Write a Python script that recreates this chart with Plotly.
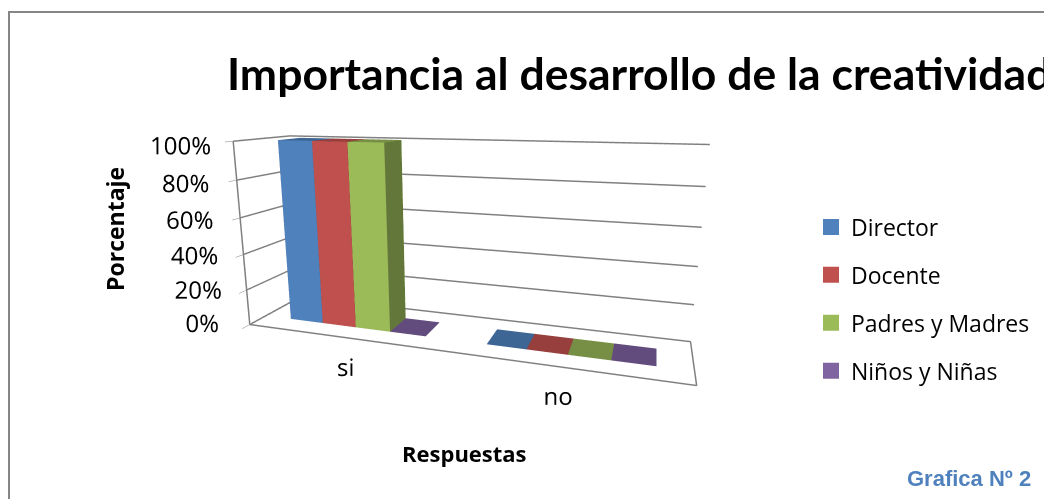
import plotly.graph_objects as go

categories = ["si", "no"]
series_names = ["Director", "Docente", "Padres y Madres", "Niños y Niñas"]
director = [100, 0]
docente = [100, 0]
padres = [100, 0]
ninos = [0, 0]
series_values = [director, docente, padres, ninos]
z_ticks = [0, 20, 40, 60, 80, 100]
z_labels = ["0%", "20%", "40%", "60%", "80%", "100%"]
front_colors = ["#4f81bd", "#c0504d", "#9bbb59", "#8064a2"]
top_colors = ["#3d6695", "#963f3c", "#768f45", "#624c7e"]
side_colors = ["#3a5f8c", "#8c3a38", "#63773a", "#55426e"]

BAR_W = 0.178
MARGIN = 0.144
Y0, Y1 = 0.29, 0.71
GRID = "#808080"

fig = go.Figure()

def bar(cat, ser, v):
    x0 = cat + MARGIN + ser * BAR_W
    x1 = x0 + BAR_W
    xs = [x0, x1, x1, x0, x0, x1, x1, x0]
    ys = [Y0, Y0, Y1, Y1, Y0, Y0, Y1, Y1]
    zs = [0, 0, 0, 0, v, v, v, v]
    i = [0, 0, 1, 1, 4, 4, 0, 0, 3, 3, 2, 2]
    j = [1, 5, 2, 6, 5, 6, 1, 3, 0, 4, 3, 7]
    k = [5, 4, 6, 5, 6, 7, 2, 2, 4, 7, 7, 6]
    f = front_colors[ser]; s = side_colors[ser]; t = top_colors[ser]
    fc = [f, f, s, s, t, t, t, t, s, s, f, f]
    return go.Mesh3d(x=xs, y=ys, z=zs, i=i, j=j, k=k, facecolor=fc, flatshading=True,
                     lighting=dict(ambient=1, diffuse=0, specular=0, fresnel=0, roughness=1),
                     hoverinfo="skip", showlegend=False)

for s, vals in enumerate(series_values):
    for c, v in enumerate(vals):
        fig.add_trace(bar(c, s, v))

n = len(categories)
fig.add_trace(go.Scatter3d(x=[0, n, n, 0, 0], y=[0, 0, 1, 1, 0], z=[0, 0, 0, 0, 0], mode="lines",
                           line=dict(color=GRID, width=3), hoverinfo="skip", showlegend=False))
fig.add_trace(go.Scatter3d(x=[0, 0], y=[0, 0], z=[0, 100], mode="lines",
                           line=dict(color=GRID, width=3), hoverinfo="skip", showlegend=False))
# invisible traces that activate the overlay scenes carrying the axis labels
for scene_name in ["scene2", "scene3"]:
    fig.add_trace(go.Scatter3d(x=[0, n], y=[0, 1], z=[0, 100], mode="lines", scene=scene_name, opacity=0,
                               line=dict(color="rgba(0,0,0,0)", width=1), hoverinfo="skip", showlegend=False))

for name, color in zip(series_names, front_colors):
    fig.add_trace(go.Scatter(x=[None], y=[None], mode="markers", name=name, legendgroup=name,
                             marker=dict(symbol="square", size=16, color=color)))

axis_font = dict(family="Open Sans", size=17, color="#000000")
hidden = dict(showgrid=False, showbackground=False, zeroline=False, showspikes=False, ticks="",
              showticklabels=False, showline=False, title="")
fig.update_layout(
    width=1044, height=499, margin=dict(l=0, r=0, t=0, b=0),
    paper_bgcolor="white", plot_bgcolor="rgba(0,0,0,0)", font=dict(family="Open Sans", size=21, color="#000000"),
    xaxis=dict(visible=False), yaxis=dict(visible=False),
    scene=dict(
        domain=dict(x=[0, 0.885], y=[0.032, 1]),
        aspectmode="manual", aspectratio=dict(x=1.98, y=0.43, z=0.86),
        camera=dict(eye=dict(x=0.772, y=-2.377, z=0.60), center=dict(x=0, y=0, z=0), up=dict(x=0, y=0, z=1)),
        xaxis=dict(range=[0, n], **hidden),
        yaxis=dict(range=[0, 1], **hidden),
        zaxis=dict(range=[0, 100], tickvals=z_ticks, showticklabels=False, title="", showgrid=True,
                   gridcolor=GRID, gridwidth=3, showbackground=False, zeroline=False, showspikes=False,
                   ticks="outside", ticklen=6, tickcolor=GRID),
    ),
    scene2=dict(
        domain=dict(x=[0, 0.885], y=[0.032, 1]),
        aspectmode="manual", aspectratio=dict(x=1.98, y=0.43, z=0.78),
        camera=dict(eye=dict(x=0.772, y=-2.377, z=0.60), center=dict(x=0.105, y=0, z=-0.03), up=dict(x=0, y=0, z=1)),
        xaxis=dict(range=[0, n], **hidden),
        yaxis=dict(range=[0, 1], **hidden),
        zaxis=dict(range=[0, 100], tickvals=z_ticks, ticktext=z_labels, title="", showgrid=False,
                   showbackground=False, zeroline=False, showspikes=False, ticks="outside", ticklen=6,
                   tickcolor="rgba(0,0,0,0)", tickangle=0, tickfont=axis_font),
    ),
    scene3=dict(
        domain=dict(x=[0, 0.885], y=[0.032, 1]),
        aspectmode="manual", aspectratio=dict(x=1.98, y=0.43, z=0.86),
        camera=dict(eye=dict(x=0.772, y=-2.377, z=0.60), center=dict(x=0, y=0, z=0.06), up=dict(x=0, y=0, z=1)),
        xaxis=dict(range=[0, n], tickvals=[0.6, 1.5], ticktext=categories, title="", showgrid=False,
                   showbackground=False, zeroline=False, showspikes=False, ticks="outside", ticklen=43,
                   tickcolor="rgba(0,0,0,0)", tickangle=0, tickfont=axis_font),
        yaxis=dict(range=[0, 1], **hidden),
        zaxis=dict(range=[0, 100], **hidden),
    ),
    legend=dict(x=811 / 1044, y=1 - 299 / 499, xanchor="left", yanchor="middle", tracegroupgap=15,
                font=dict(family="Open Sans", size=23, color="#000000"), bgcolor="rgba(0,0,0,0)"),
    shapes=[dict(type="rect", xref="paper", yref="paper", x0=9 / 1044, x1=1.05, y0=-0.05, y1=1 - 12 / 499,
                 line=dict(color="#868686", width=2), fillcolor="rgba(0,0,0,0)", layer="below")],
    annotations=[
        dict(text="<b>Importancia al desarrollo de la creatividad</b>", xref="paper", yref="paper",
             x=225 / 1044, y=1 - 72 / 499, xanchor="left", yanchor="middle", showarrow=False,
             font=dict(family="Lato", size=44.5, color="#000000")),
        dict(text="<b>Porcentaje</b>", xref="paper", yref="paper", x=115 / 1044, y=1 - 229 / 499,
             xanchor="center", yanchor="middle", textangle=-90, showarrow=False,
             font=dict(family="Open Sans", size=23, color="#000000")),
        dict(text="<b>Respuestas</b>", xref="paper", yref="paper", x=464 / 1044, y=1 - 453 / 499,
             xanchor="center", yanchor="middle", showarrow=False,
             font=dict(family="Open Sans", size=22, color="#000000")),
        dict(text="<b>Grafica Nº 2</b>", xref="paper", yref="paper", x=969 / 1044, y=1 - 478 / 499,
             xanchor="center", yanchor="middle", showarrow=False,
             font=dict(family="Liberation Sans", size=22, color="#4f81bd")),
    ],
)
fig.write_html("out.html", config=dict(displayModeBar=False),
               post_script="document.body.style.margin='0';document.body.style.overflow='hidden';")
